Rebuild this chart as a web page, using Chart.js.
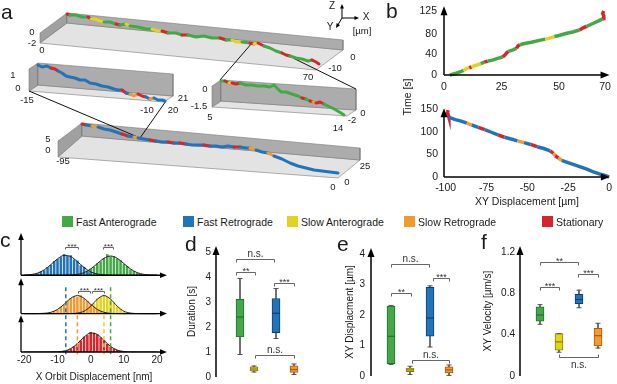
<!DOCTYPE html>
<html>
<head>
<meta charset="utf-8">
<script src="https://cdn.jsdelivr.net/npm/chart.js@4.4.0/dist/chart.umd.min.js"></script>
<style>
html, body { margin: 0; padding: 0; background: #fff; }
#fig { position: relative; width: 617px; height: 384px; overflow: hidden; background: #fff;
       font-family: "Liberation Sans", Arial, Helvetica, sans-serif; color: #1a1a1a; }
#fig canvas { position: absolute; }
</style>
</head>
<body>
<div id="fig"></div>
<script>
// ---- state colours ----
const COL = { G: '#43a947', B: '#2274ba', Y: '#e4d31c', O: '#f39a2f', R: '#d4272c' };
const EDGE = { G: '#23702b', B: '#0f3f70', Y: '#8d8000', O: '#a65c0f', R: '#7d1316' };

// legend
const legendKeys = ['G', 'B', 'Y', 'O', 'R'];
const legendNames = ['Fast Anterograde', 'Fast Retrograde', 'Slow Anterograde', 'Slow Retrograde', 'Stationary'];

// ---- panel a: projected 3D trajectories ----
const topTrackX = [67,70,76,82,88,91,95,100,104,110,116,120,126,130,138,146,152,158,162,168,176,182,188,196,204,212,220,226,232,236,242,250,254,258,264,270,276,282,286,290,296,302,308,312,316,319];
const topTrackY = [14,15,15,17,17,19,19,21,22,22,24,25,24,26,27,29,29,31,31,33,33,35,35,37,36,38,38,40,40,42,42,43,44,43,46,48,51,53,55,56,58,59,61,60,62,64];
const topTrackS = 'RGGGRYYYGGRGYGGGYYRGGRGGGGRGYYGRYRGGGRRGGGGRRR';

const midLTrackX = [38,42,47,51,55,58,62,66,70,75,80,85,90,96,102,108,114,118,122,126,130,134,138,142,146,150,154,158,162,165];
const midLTrackY = [65,67,66,68,69,71,73,76,77,78,80,80,83,84,86,87,89,90,90,93,94,96,94,96,97,99,98,100,100,101];
const midLTrackS = 'BBBRRBBBBBBBBBBBBBRBOORRBOBBBB';

const midRTrackX = [221,225,229,232,236,240,246,252,258,264,270,274,277,281,286,292,298,302,306,310,313,316,320,324,330,336,341,344];
const midRTrackY = [81,81,83,83,84,83,85,85,86,86,87,85,88,92,92,94,96,98,99,101,102,103,102,104,107,110,113,115];
const midRTrackS = 'GRYRRGGGGGGGGGGGGRGRORRGGGGG';

const botTrackX = [82,86,92,98,104,110,116,122,128,134,138,144,150,156,162,168,174,180,186,192,198,204,210,216,222,228,234,240,246,250,256,262,268,274,282,290,298,306,314,322,330,338];
const botTrackY = [124,125,126,127,129,130,132,134,136,137,138,139,140,141,142,142,143,143,144,145,145,145,146,146,147,146,147,147,148,148,150,152,153,156,159,163,166,168,170,171,172,173];
const botTrackS = 'RBOBBBBRBOBBRBBRBRBBBRBBBBRBBOBBOBBBBBBBBB';

// box planes (back wall, end wall, floor) in projected panel units
const topBack = [[67,13],[343,40],[343,50],[67,23]];
const topSide = [[67,13],[67,23],[40,43],[40,33]];
const topFloor = [[67,23],[343,50],[316,70],[40,43]];
const midLBack = [[38,63],[173,74],[173,96],[38,85]];
const midLSide = [[38,63],[38,85],[29,91],[29,69]];
const midLFloor = [[38,85],[173,96],[164,102],[29,91]];
const midRBack = [[221,80],[356,89],[356,110],[221,101]];
const midRSide = [[221,80],[221,101],[212,107],[212,86]];
const midRFloor = [[221,101],[356,110],[347,116],[212,107]];
const botBack = [[82,123],[360,148],[360,160],[82,136]];
const botSide = [[82,123],[82,136],[58,157],[58,141]];
const botFloor = [[82,136],[360,160],[338,178],[58,157]];
const zoomLinks = [[[252,43],[220,80]], [[293,58],[356,89]], [[29,91],[140,138]], [[166,101],[140,138]]];

const aTicks = [['0',32,32],['-2',32,43],['0',42,50],['0',353,57],['-10',335,68],['70',308,77],
  ['1',13,75],['0',18,88],['-15',27,100],['21',183,98],['-10',147,110],['20',173,110],
  ['0',205,89],['-1.5',199,106],['5',210,117],['0',363,113],['-2',352,120],['14',338,128],
  ['5',48,139],['0',48,150],['-95',63,161],['25',365,166],['0',347,182],['0',333,187]];

// ---- panel b: displacement vs time ----
const bTopX = [2.5,5,7.5,8.5,10,11,12,14,16,17.5,19,21,23,25.5,26.5,27.2,28,30,31.5,32.2,33,35.5,38,41,44,46,48,50,53,56,59,60.5,62,64.5,67,69.2,69.5,69,69.5];
const bTopT = [0,3,7,9,13,14,16,19,22,25,27,29,32,35,39,43,46,49,52,57,59,62,64,67,70,72,75,77,81,84,88,92,95,100,105,110,115,120,125];
const bTopS = 'GGGYYRYYGRGGGRRRGGRRGGGGYYGGGGRRGGGRRRR';
const bBotX = [-98.5,-98.8,-98.3,-98,-94,-90,-87,-84,-80,-76,-72,-68,-64,-60,-56,-52,-48,-44,-40,-36,-34,-33,-31,-29,-26,-22,-18,-14,-10,-6,-3,0];
const bBotT = [148,142,136,132,127,123,119,115,110,105,99,93,88,84,80,76,72,67,63,58,52,47,42,37,33,28,23,18,12,7,4,0];
const bBotS = 'RRRBBBOBRBBRBBOBRBBROROBBBBBBBBB';
const bTopXTicks = [0, 25, 50, 70];
const bTopYTicks = [0, 40, 80, 125];
const bBotXTicks = [-100, -75, -50, -25, 0];
const bBotYTicks = [0, 50, 100, 150];

// ---- panel c: orbit displacement histograms ----
const cXTicks = [-20, -10, 0, 10, 20];
const blueBins = [-17,-16,-15,-14,-13,-12,-11,-10,-9,-8,-7,-6,-5,-4,-3,-2,-1,0,1,2];
const blueH = [0.03,0.05,0.10,0.13,0.21,0.27,0.37,0.42,0.47,0.55,0.50,0.52,0.41,0.38,0.26,0.22,0.12,0.09,0.05,0.02];
const greenBins = [-3,-2,-1,0,1,2,3,4,5,6,7,8,9,10,11,12,13,14,15,16,17];
const greenH = [0.03,0.07,0.10,0.17,0.22,0.31,0.36,0.45,0.55,0.49,0.50,0.43,0.39,0.29,0.24,0.15,0.11,0.06,0.04,0.02,0.01];
const orangeBins = [-13,-12,-11,-10,-9,-8,-7,-6,-5,-4,-3,-2,-1,0,1,2,3,4];
const orangeH = [0.02,0.03,0.07,0.10,0.18,0.23,0.34,0.40,0.46,0.44,0.48,0.38,0.33,0.25,0.16,0.11,0.06,0.03];
const yellowBins = [-2,-1,0,1,2,3,4,5,6,7,8,9,10,11,12];
const yellowH = [0.06,0.12,0.20,0.27,0.39,0.43,0.49,0.44,0.37,0.29,0.18,0.12,0.06,0.03,0.01];
const redBins = [-9,-8,-7,-6,-5,-4,-3,-2,-1,0,1,2,3,4,5,6,7,8,9,10];
const redH = [0.01,0.03,0.05,0.09,0.15,0.22,0.30,0.40,0.44,0.52,0.50,0.46,0.38,0.31,0.21,0.14,0.09,0.05,0.03,0.01];
const cCurveX = [-20,-18,-16,-14,-12,-10,-8,-6,-4,-2,0,2,4,6,8,10,12,14,16,18,20];
const blueCurve = [0.004,0.017,0.055,0.139,0.276,0.427,0.516,0.485,0.355,0.202,0.089,0.031,0.008,0.002,0,0,0,0,0,0,0];
const greenCurve = [0,0,0,0,0,0,0.001,0.006,0.022,0.068,0.163,0.304,0.441,0.5,0.441,0.304,0.163,0.068,0.022,0.006,0.001];
const orangeCurve = [0,0,0.001,0.008,0.034,0.108,0.244,0.399,0.47,0.399,0.244,0.108,0.034,0.008,0.001,0,0,0,0,0,0];
const yellowCurve = [0,0,0,0,0,0,0,0.002,0.014,0.063,0.193,0.376,0.47,0.376,0.193,0.063,0.014,0.002,0,0,0];
const redCurve = [0,0,0,0,0.001,0.006,0.026,0.089,0.219,0.387,0.495,0.456,0.303,0.145,0.05,0.013,0.002,0,0,0,0];
const cPeakX = [-7.5, -4, 4, 6];
const cPeakTop = [1.69, 0.96, 0.96, 1.69];
const cPeakKey = ['B', 'O', 'Y', 'G'];

// ---- panels d, e, f: box plots (Fast Ant., Slow Ant., Fast Ret., Slow Ret.) ----
const boxKeys = ['G', 'Y', 'B', 'O'];
const dPos = [24, 38, 60, 78];
const dMin = [0.9, 0.2, 1.54, 0.1];
const dQ1 = [1.6, 0.24, 1.77, 0.18];
const dMed = [2.4, 0.32, 2.55, 0.3];
const dQ3 = [3.11, 0.41, 3.14, 0.45];
const dMax = [3.94, 0.44, 3.54, 0.52];
const dYTicks = [0, 1, 2, 3, 4, 5];

const ePos = [20, 39, 59, 78];
const eMin = [0.38, 0.05, 0.95, 0.02];
const eQ1 = [0.4, 0.14, 1.3, 0.1];
const eMed = [1.3, 0.2, 1.9, 0.2];
const eQ3 = [2.29, 0.26, 2.9, 0.3];
const eMax = [2.31, 0.32, 2.95, 0.36];
const eYTicks = [0, 1, 2, 3, 4];

const fPos = [20, 39, 59, 78];
const fMin = [0.5, 0.23, 0.66, 0.27];
const fQ1 = [0.53, 0.25, 0.7, 0.29];
const fMed = [0.59, 0.33, 0.74, 0.39];
const fQ3 = [0.67, 0.41, 0.79, 0.46];
const fMax = [0.69, 0.41, 0.83, 0.51];
const fYTicks = [0, 0.4, 0.8, 1.2];

const cSig = [{x0: -7.7, x1: -3.8, y: 2.73, label: '***'}, {x0: 3.8, x1: 6.8, y: 2.73, label: '***'},
              {x0: -3.8, x1: -0.2, y: 1.58, label: '***'}, {x0: 0.3, x1: 4.0, y: 1.58, label: '***'}];
const dSig = [{x0: 20, x1: 58, y: 4.72, label: 'n.s.'}, {x0: 20, x1: 39, y: 4.2, label: '**'},
              {x0: 58, x1: 78, y: 3.78, label: '***'}, {x0: 39, x1: 78, y: 0.87, label: 'n.s.'}];
const eSig = [{x0: 20, x1: 58, y: 3.65, label: 'n.s.'}, {x0: 20, x1: 40, y: 2.73, label: '**'},
              {x0: 62, x1: 78, y: 3.2, label: '***'}, {x0: 41, x1: 78, y: 0.54, label: 'n.s.'}];
const fSig = [{x0: 20, x1: 58, y: 1.1, label: '**'}, {x0: 20, x1: 39, y: 0.86, label: '***'},
              {x0: 58, x1: 78, y: 0.99, label: '***'}, {x0: 39, x1: 78, y: 0.18, label: 'n.s.', below: true}];

// ---- defaults ----
const FONT = '"Liberation Sans", Arial, Helvetica, sans-serif';
Chart.defaults.font.family = FONT;
Chart.defaults.font.size = 10;
Chart.defaults.color = '#1a1a1a';
Chart.defaults.animation = false;
Chart.defaults.events = [];
Chart.defaults.plugins.legend.display = false;
Chart.defaults.plugins.tooltip.enabled = false;

const fig = document.getElementById('fig');

function addCanvas(left, top, w, h) {
    const c = document.createElement('canvas');
    c.width = w;
    c.height = h;
    Object.assign(c.style, { left: left + 'px', top: top + 'px', width: w + 'px', height: h + 'px' });
    fig.appendChild(c);
    return c;
}

function addText(txt, x, y, size, ax, rot) {
    const d = document.createElement('div');
    d.textContent = txt;
    const tx = ax === undefined ? -50 : ax;
    d.style.cssText = 'position:absolute;white-space:nowrap;line-height:1;left:' + x + 'px;top:' + y + 'px;font-size:' + size +
        'px;transform:translate(' + tx + '%,-50%)' + (rot ? ' rotate(' + rot + 'deg)' : '') + ';';
    fig.appendChild(d);
    return d;
}

const pts = (xs, ys) => xs.map((x, i) => ({ x: x, y: ys[i] }));
const poly = (p) => p.concat([p[0]]).map(q => ({ x: q[0], y: q[1] }));
const segColor = (states) => (ctx) => COL[states[ctx.p0DataIndex]];

// axis drawn with an arrow head
const arrowAxes = {
    id: 'arrowAxes',
    afterDraw(chart, args, o) {
        const ctx = chart.ctx, sx = chart.scales.x, sy = chart.scales.y;
        const L = o.head || 8, W = o.headW || 3;
        ctx.save();
        ctx.strokeStyle = ctx.fillStyle = o.color || '#000';
        ctx.lineWidth = o.width || 1.3;
        (o.lines || []).forEach(([a, b]) => {
            const x0 = sx.getPixelForValue(a[0]), y0 = sy.getPixelForValue(a[1]);
            const x1 = sx.getPixelForValue(b[0]), y1 = sy.getPixelForValue(b[1]);
            const ang = Math.atan2(y1 - y0, x1 - x0), c = Math.cos(ang), s = Math.sin(ang);
            ctx.beginPath();
            ctx.moveTo(x0, y0);
            ctx.lineTo(x1 - c * L * 0.8, y1 - s * L * 0.8);
            ctx.stroke();
            ctx.beginPath();
            ctx.moveTo(x1, y1);
            ctx.lineTo(x1 - L * c + W * s, y1 - L * s - W * c);
            ctx.lineTo(x1 - L * c - W * s, y1 - L * s + W * c);
            ctx.closePath();
            ctx.fill();
        });
        ctx.restore();
    }
};

// significance brackets
const brackets = {
    id: 'brackets',
    afterDatasetsDraw(chart, args, o) {
        const ctx = chart.ctx, sx = chart.scales.x, sy = chart.scales.y;
        ctx.save();
        ctx.strokeStyle = '#666';
        ctx.fillStyle = '#333';
        ctx.lineWidth = 1;
        ctx.textAlign = 'center';
        ctx.textBaseline = 'alphabetic';
        (o.items || []).forEach(b => {
            const x0 = Math.round(sx.getPixelForValue(b.x0)) + 0.5, x1 = Math.round(sx.getPixelForValue(b.x1)) + 0.5;
            const y = Math.round(sy.getPixelForValue(b.y)) + 0.5;
            const d = b.below ? -o.tick : o.tick;
            ctx.beginPath();
            ctx.moveTo(x0, y + d);
            ctx.lineTo(x0, y);
            ctx.lineTo(x1, y);
            ctx.lineTo(x1, y + d);
            ctx.stroke();
            const star = b.label.indexOf('*') >= 0;
            const size = star ? o.starSize : o.size;
            ctx.font = size + 'px ' + FONT;
            let ty;
            if (b.below) ty = y + 2 + size * 0.8;
            else ty = star ? y + size * 0.15 : y - 3;
            ctx.fillText(b.label, (x0 + x1) / 2, ty);
        });
        ctx.restore();
    }
};

function linAxis(o) {
    const ax = {
        type: 'linear', min: o.min, max: o.max, offset: false,
        grid: { display: false, drawTicks: false },
        border: { display: false },
        ticks: { padding: o.pad, font: { size: o.font || 10 }, callback: v => String(v) },
        afterBuildTicks: s => { s.ticks = o.ticks.map(v => ({ value: v })); },
        afterFit: s => {
            if (o.width !== undefined) s.width = o.width;
            if (o.height !== undefined) s.height = o.height;
        }
    };
    if (o.title) ax.title = { display: true, text: o.title, padding: 0, font: { size: o.titleSize || 10 } };
    return ax;
}

// ================= panel a =================
const trackSet = (xs, ys, st) => ({
    data: pts(xs, ys), showLine: true, borderWidth: 3, pointRadius: 0, borderColor: COL[st[0]],
    segment: { borderColor: segColor(st) }, borderJoinStyle: 'round', borderCapStyle: 'round'
});
const faceSet = (p, color) => ({
    data: poly(p), showLine: true, fill: 'shape', backgroundColor: color, borderColor: '#7a7a7a',
    borderWidth: 0.6, pointRadius: 0
});
const linkSet = (l) => ({ data: poly(l).slice(0, 2), showLine: true, borderColor: '#111', borderWidth: 1, pointRadius: 0 });

const aSets = [
    trackSet(topTrackX, topTrackY, topTrackS),
    trackSet(midLTrackX, midLTrackY, midLTrackS),
    trackSet(midRTrackX, midRTrackY, midRTrackS),
    trackSet(botTrackX, botTrackY, botTrackS)
].concat(zoomLinks.map(linkSet));
[[topBack, topSide, topFloor], [midLBack, midLSide, midLFloor], [midRBack, midRSide, midRFloor], [botBack, botSide, botFloor]]
    .forEach(([bk, sd, fl]) => {
        aSets.push(faceSet(bk, '#acacac'), faceSet(sd, '#a0a0a0'), faceSet(fl, '#e3e3e3'));
    });

new Chart(addCanvas(0, 0, 400, 215), {
    type: 'scatter',
    data: { datasets: aSets },
    options: {
        responsive: false,
        layout: { padding: 0 },
        scales: {
            x: { type: 'linear', min: 0, max: 400, display: false },
            y: { type: 'linear', min: 0, max: 215, reverse: true, display: false }
        },
        plugins: {
            arrowAxes: { lines: [[[342, 18], [342, 4]], [[342, 18], [359, 18]], [[342, 18], [336, 28]]], width: 1, head: 4.5, headW: 2 }
        }
    },
    plugins: [arrowAxes]
});
aTicks.forEach(t => addText(t[0], t[1], t[2], 9.5));
addText('Z', 332, 6, 10);
addText('X', 366, 17, 10);
addText('Y', 330, 27, 10);
addText('[µm]', 362, 31, 9.5);

// ================= panel b =================
const bTrack = (xs, ys, st) => ({
    data: pts(xs, ys), showLine: true, borderWidth: 3.5, pointRadius: 0, borderColor: COL[st[0]],
    segment: { borderColor: segColor(st) }, clip: false
});

new Chart(addCanvas(404, -7, 213, 102), {
    type: 'scatter',
    data: { datasets: [bTrack(bTopX, bTopT, bTopS)] },
    options: {
        responsive: false,
        layout: { padding: { top: 10, right: 7, left: 0, bottom: 0 } },
        scales: {
            x: linAxis({ min: 0, max: 72, ticks: bTopXTicks, pad: 6, height: 20, font: 10.5 }),
            y: linAxis({ min: 0, max: 134, ticks: bTopYTicks, pad: 7, width: 40, font: 10.5 })
        },
        plugins: { arrowAxes: { lines: [[[0, 0], [72, 0]], [[0, 0], [0, 134]]], width: 1.5, head: 9, headW: 3.5 } }
    },
    plugins: [arrowAxes]
});

new Chart(addCanvas(404, 96, 213, 112), {
    type: 'scatter',
    data: { datasets: [bTrack(bBotX, bBotT, bBotS)] },
    options: {
        responsive: false,
        layout: { padding: { top: 10, right: 6, left: 0, bottom: 0 } },
        scales: {
            x: linAxis({ min: -101, max: 0.5, ticks: bBotXTicks, pad: 5, height: 31, font: 10.5, title: 'XY Displacement [µm]', titleSize: 10.5 }),
            y: linAxis({ min: 0, max: 152, ticks: bBotYTicks, pad: 6, width: 40, font: 10.5 })
        },
        plugins: { arrowAxes: { lines: [[[-101, 0], [0.5, 0]], [[-101, 0], [-101, 152]]], width: 1.5, head: 9, headW: 3.5 } }
    },
    plugins: [arrowAxes]
});
addText('Time [s]', 407, 97, 10.5, -50, -90);

// ================= legend =================
const legendSq = [62, 183, 287, 404, 542];
legendKeys.forEach((k, i) => {
    const sq = document.createElement('div');
    sq.style.cssText = 'position:absolute;left:' + legendSq[i] + 'px;top:216px;width:11px;height:11px;background:' + COL[k] + ';';
    fig.appendChild(sq);
    addText(legendNames[i], legendSq[i] + 14, 222, 10.5, 0);
});

// ================= panel c =================
const cRows = [
    { bins: blueBins, h: blueH, curve: blueCurve, key: 'B', base: 2 },
    { bins: greenBins, h: greenH, curve: greenCurve, key: 'G', base: 2 },
    { bins: orangeBins, h: orangeH, curve: orangeCurve, key: 'O', base: 1 },
    { bins: yellowBins, h: yellowH, curve: yellowCurve, key: 'Y', base: 1 },
    { bins: redBins, h: redH, curve: redCurve, key: 'R', base: 0 }
];
const cDash = cPeakX.map((x, i) => ({
    type: 'line', data: [{ x: x, y: cPeakTop[i] }, { x: x, y: -0.08 }], borderColor: COL[cPeakKey[i]],
    borderDash: [4, 3], borderWidth: 1.5, pointRadius: 0, clip: false
}));
const cCurves = cRows.map(r => ({
    type: 'line', data: cCurveX.map((x, i) => ({ x: x, y: r.base + r.curve[i] })), borderColor: '#222',
    borderWidth: 1, pointRadius: 0, cubicInterpolationMode: 'monotone', fill: false
}));
const cBars = cRows.map(r => ({
    type: 'bar', data: r.bins.map((x, i) => ({ x: x, y: [r.base, r.base + r.h[i]] })),
    backgroundColor: COL[r.key], borderWidth: 0, barPercentage: 0.78, categoryPercentage: 1, grouped: false
}));

new Chart(addCanvas(0, 223, 177, 160), {
    type: 'bar',
    data: { datasets: cDash.concat(cCurves, cBars) },
    options: {
        responsive: false,
        layout: { padding: { top: 10, right: 10, left: 21, bottom: 0 } },
        scales: {
            x: linAxis({ min: -21, max: 23, ticks: cXTicks, pad: 2, height: 31, title: 'X Orbit Displacement [nm]' }),
            y: { type: 'linear', min: 0, max: 3.1, display: false }
        },
        plugins: {
            arrowAxes: {
                lines: [[[-21, 0], [23, 0]], [[-21, 1], [23, 1]], [[-21, 2], [23, 2]],
                        [[-21, 0], [-21, 0.96]], [[-21, 1], [-21, 1.92]], [[-21, 2], [-21, 3.1]]],
                width: 1.3, head: 7, headW: 2.8
            },
            brackets: { items: cSig, tick: 2, size: 8, starSize: 8 }
        }
    },
    plugins: [arrowAxes, brackets]
});

// ================= panels d, e, f =================
function boxSets(pos, mn, q1, md, q3, mx) {
    return [
        { type: 'scatter', data: pts(pos, md), pointStyle: 'line', pointRadius: 4,
          pointBorderColor: boxKeys.map(k => EDGE[k]), pointBorderWidth: 1.2 },
        { type: 'scatter', data: pts(pos, mx).concat(pts(pos, mn)), pointStyle: 'line', pointRadius: 2.5,
          pointBorderColor: '#555', pointBorderWidth: 1 },
        { type: 'bar', data: pos.map((x, i) => ({ x: x, y: [q1[i], q3[i]] })),
          backgroundColor: boxKeys.map(k => COL[k]), borderColor: boxKeys.map(k => EDGE[k]),
          borderWidth: 1, borderSkipped: false, barThickness: 8, grouped: false },
        { type: 'bar', data: pos.map((x, i) => ({ x: x, y: [mn[i], mx[i]] })),
          backgroundColor: '#555', barThickness: 1, grouped: false }
    ];
}

function boxChart(canvas, sets, yMax, xMax, yTicks, yWidth, yPad, title, sig, padRight) {
    return new Chart(canvas, {
        type: 'bar',
        data: { datasets: sets },
        options: {
            responsive: false,
            layout: { padding: { top: 10, right: padRight, left: 0, bottom: 10 } },
            scales: {
                x: { type: 'linear', min: 0, max: xMax, display: false, offset: false },
                y: linAxis({ min: 0, max: yMax, ticks: yTicks, pad: yPad, width: yWidth, title: title })
            },
            plugins: {
                arrowAxes: { lines: [[[0, 0], [0, yMax]]], width: 1.5, head: 9, headW: 3.5 },
                brackets: { items: sig, tick: 3, size: 10, starSize: 9 }
            }
        },
        plugins: [arrowAxes, brackets]
    });
}

boxChart(addCanvas(186, 235, 140, 153), boxSets(dPos, dMin, dQ1, dMed, dQ3, dMax), 5.24, 100, dYTicks, 30, 5, 'Duration [s]', dSig, 10);
boxChart(addCanvas(344, 236, 137, 152), boxSets(ePos, eMin, eQ1, eMed, eQ3, eMax), 4.19, 100, eYTicks, 27, 6, 'XY Displacment [µm]', eSig, 10);
boxChart(addCanvas(482, 235, 135, 152), boxSets(fPos, fMin, fQ1, fMed, fQ3, fMax), 1.257, 90, fYTicks, 38, 5, 'XY Velocity [µm/s]', fSig, 7);

// ================= panel letters =================
[['a', 1, 11], ['b', 386, 10], ['c', 0, 239], ['d', 185, 243], ['e', 337, 243], ['f', 481, 241]]
    .forEach(l => addText(l[0], l[1], l[2], 21, 0));
</script>
</body>
</html>
